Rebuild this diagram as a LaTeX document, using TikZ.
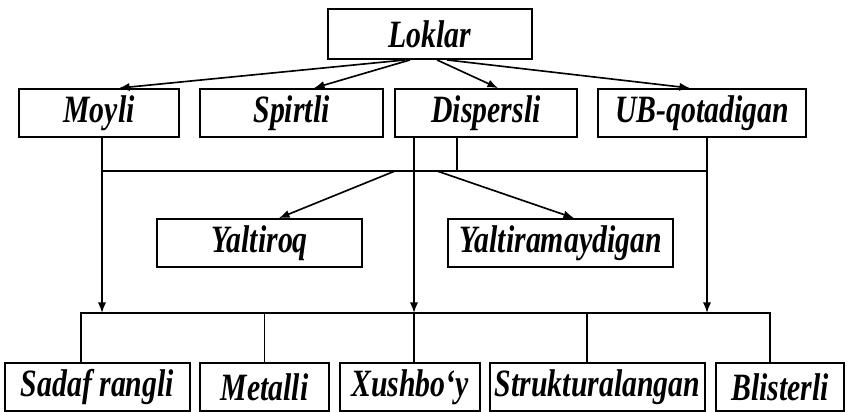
\documentclass[tikz,border=0pt]{standalone}
\usepackage{fontspec}
\newfontfamily\lblfont{Liberation Serif}[FakeStretch=0.77]
\usetikzlibrary{arrows.meta}
\begin{document}
\begin{tikzpicture}[x=0.03cm, y=-0.03cm,
  every node/.style={font=\lblfont\bfseries\itshape\fontsize{33}{33}\selectfont},
  box/.style={draw, line width=1.6pt, inner sep=0pt, minimum height=1.44cm},
  link/.style={line width=1.4pt},
  arr/.style={link, -{Latex[length=9pt, width=7pt]}}]
  \useasboundingbox (0,0) rectangle (853,411);

  \node[box, minimum width=6.12cm, minimum height=1.5cm] (loklar) at (430,34) {Loklar};

  \node[box, minimum width=4.8cm]  (moyli)     at (99,113)    {Moyli};
  \node[box, minimum width=5.49cm] (spirtli)   at (291.5,113) {Spirtli};
  \node[box, minimum width=5.46cm] (dispersli) at (486,113)   {Dispersli};
  \node[box, minimum width=6.24cm] (ubq)       at (702,113)   {UB-qotadigan};

  \node[box, minimum width=6.15cm] (yaltiroq) at (259.5,243) {Yaltiroq};
  \node[box, minimum width=6.75cm] (yaltiram) at (560.5,243) {Yaltiramaydigan};

  \node[box, minimum width=5.55cm] (sadaf)    at (97.5,387)  {Sadaf rangli};
  \node[box, minimum width=3.87cm] (metalli)  at (264.5,387) {Metalli};
  \node[box, minimum width=4.2cm]  (xushboy)  at (410,387)   {Xushbo‘y};
  \node[box, minimum width=6.45cm] (struktur) at (597.5,387) {Strukturalangan};
  \node[box, minimum width=3.84cm] (blister)  at (780,387)   {Blisterli};

  \coordinate (ubus) at (0,171);
  \coordinate (lbus) at (0,313);
  \coordinate (ul) at ([xshift=0.09cm]moyli.south |- ubus);
  \coordinate (ur) at ([xshift=0.15cm]ubq.south |- ubus);
  \coordinate (ya) at (395,171);
  \coordinate (yb) at (437,171);

  \draw[arr] ([xshift=-0.75cm]loklar.south) -- ([xshift=0.6cm]moyli.north);
  \draw[arr] ([xshift=-0.6cm]loklar.south) -- ([xshift=0.675cm]spirtli.north);
  \draw[arr] ([xshift=0.21cm]loklar.south) -- ([xshift=0.36cm]dispersli.north);
  \draw[arr] ([xshift=0.51cm]loklar.south) -- ([xshift=-0.36cm]ubq.north);

  \draw[link] ([xshift=0.09cm]moyli.south) -- (ul) -- (ur) -- ([xshift=0.15cm]ubq.south);
  \draw[link] ([xshift=-0.87cm]dispersli.south) -- ([xshift=-0.87cm]dispersli.south |- ubus);

  \draw[arr] (ya) -- ([xshift=0.585cm]yaltiroq.north);
  \draw[arr] (yb) -- ([xshift=0.405cm]yaltiram.north);

  \draw[arr] (ul) -- (ul |- lbus);
  \draw[arr] (ur) -- (ur |- lbus);
  \draw[arr] ([xshift=-2.16cm]dispersli.south) -- ([xshift=-2.16cm]dispersli.south |- lbus);

  \draw[link] ([xshift=-0.495cm]sadaf.north) |- ([xshift=-0.3cm]blister.north |- lbus)
    -- ([xshift=-0.3cm]blister.north);
  \foreach \nd/\dx in {metalli/0, xushboy/0.12, struktur/-0.315}
    \draw[link] ([xshift=\dx cm]\nd.north) -- ([xshift=\dx cm]\nd.north |- lbus);
\end{tikzpicture}
\end{document}
